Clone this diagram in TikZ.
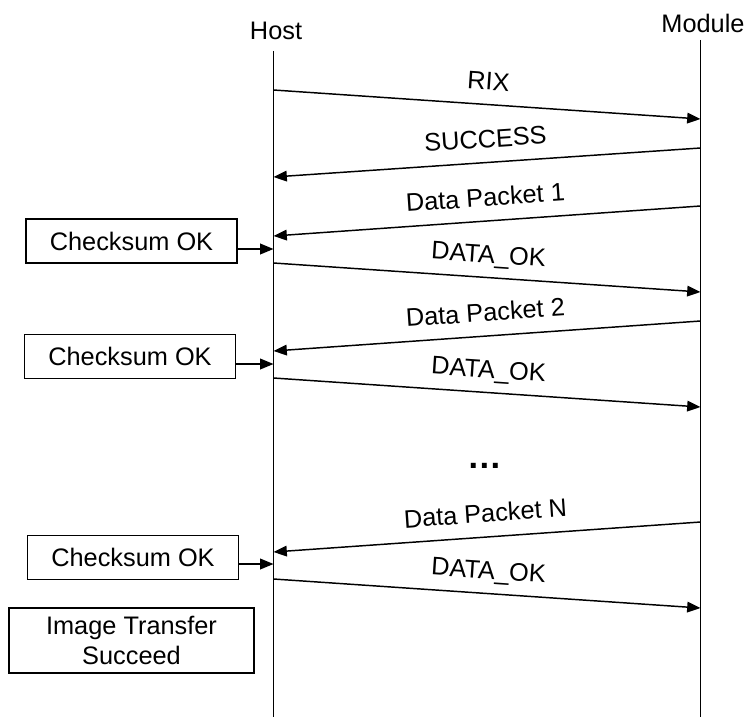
\documentclass[tikz,border=0pt]{standalone}
\usepackage{fontspec}
\setmainfont{Liberation Sans}
\usetikzlibrary{arrows.meta}

\begin{document}
\begin{tikzpicture}[
	x=0.75pt, y=-0.75pt,
	every node/.style={font=\fontsize{19}{23}\selectfont},
	lifeline/.style={line width=1.1pt},
	msg/.style={line width=1.1pt,-{Triangle[length=10pt,width=8pt]}},
	msglabel/.style={midway, sloped, above=6.5pt, inner sep=0pt, text height=13pt, text depth=4pt},
	check/.style={rectangle, draw, line width=1.1pt, minimum width=158pt, minimum height=33pt, text centered},
	]
	\useasboundingbox (0,0) rectangle (748,717);
	\node (host) at (276,31) {Host};
	\node (module) at (703,23) {Module};
	\coordinate (htop) at (273.5,51);
	\coordinate (hbot) at (273.5,717);
	\coordinate (mtop) at (700.5,40);
	\coordinate (mbot) at (700.5,717);
	\draw[lifeline] (htop) -- (hbot);
	\draw[lifeline] (mtop) -- (mbot);
	
	\foreach \i/\hy/\my/\txt in {1/90/119/RIX, 4/263/292/DATA\_OK, 6/378/407/DATA\_OK, 8/579/608/DATA\_OK}
		{\coordinate (h\i) at (273.5,\hy);
		\coordinate (m\i) at (700.5,\my);
		\draw[msg] (h\i) -- node[msglabel]{\txt} (m\i);}
	\foreach \i/\hy/\my/\txt in {2/177/148/SUCCESS, 3/236/206/Data Packet 1, 5/351/321/Data Packet 2, 7/552/522/Data Packet N}
		{\coordinate (h\i) at (273.5,\hy);
		\coordinate (m\i) at (700.5,\my);
		\draw[msg] (m\i) -- node[msglabel]{\txt} (h\i);}
	
	\node[check] (ck1) at (131.5,241) {Checksum OK};
	\node[check] (ck2) at (130,356.5) {Checksum OK};
	\node[check] (ck3) at (133,557.5) {Checksum OK};
	\coordinate (c1) at (273.5,249);
	\coordinate (c2) at (273.5,364);
	\coordinate (c3) at (273.5,564);
	\draw[msg] (ck1.east |- c1) -- (c1);
	\draw[msg] (ck2.east |- c2) -- (c2);
	\draw[msg] (ck3.east |- c3) -- (c3);
	
	\node[font=\fontsize{26}{30}\selectfont\bfseries, anchor=base] (dots) at (485,468) {…};
	\node[check, minimum width=184pt, minimum height=49pt, align=center] (done) at (131.5,640.5) {Image Transfer\\Succeed};
\end{tikzpicture}
\end{document}
